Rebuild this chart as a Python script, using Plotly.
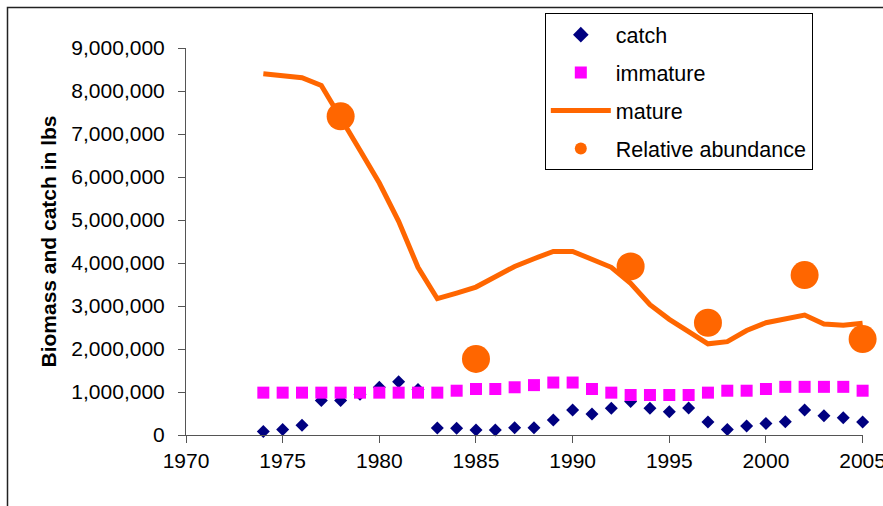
import plotly.graph_objects as go

# ── Datos ─────────────────────────────────────────────────────────────────────
years = list(range(1974, 2006))

catch = [80000, 130000, 225000, 800000, 800000, 950000, 1110000, 1240000, 1060000, 160000,
         156000, 116000, 116000, 170000, 170000, 350000, 580000, 490000, 620000, 780000,
         620000, 540000, 630000, 305000, 130000, 210000, 270000, 310000, 580000, 450000,
         400000, 300000]

immature = [985000, 985000, 985000, 985000, 985000, 985000, 985000, 985000, 985000, 985000,
            1030000, 1070000, 1070000, 1110000, 1160000, 1220000, 1220000, 1070000, 985000, 930000,
            930000, 930000, 930000, 985000, 1030000, 1030000, 1070000, 1120000, 1120000, 1120000,
            1120000, 1030000]

mature = [8400000, 8350000, 8310000, 8130000, 7400000, 6620000, 5860000, 4970000, 3900000, 3170000,
          3300000, 3440000, 3680000, 3920000, 4100000, 4270000, 4270000, 4080000, 3900000, 3530000,
          3030000, 2690000, 2420000, 2120000, 2170000, 2430000, 2610000, 2700000, 2790000, 2580000,
          2550000, 2600000]

abund_years = [1978, 1985, 1993, 1997, 2002, 2005]
abund = [7410000, 1770000, 3920000, 2610000, 3720000, 2230000]

NAVY = "#000080"
MAGENTA = "#FF00FF"
ORANGE = "#FF6600"
AXIS = "#555555"
FONT = "Arial, Liberation Sans, sans-serif"

fig = go.Figure()
fig.add_scatter(x=years, y=catch, name="catch", mode="markers", legendgroup="a",
                marker=dict(symbol="diamond", size=10, color=NAVY), cliponaxis=False)
fig.add_scatter(x=years, y=immature, name="immature", mode="markers", legendgroup="b",
                marker=dict(symbol="square", size=12, color=MAGENTA), cliponaxis=False)
fig.add_scatter(x=years, y=mature, name="mature", mode="lines", legendgroup="c",
                line=dict(color=ORANGE, width=5), cliponaxis=False)
fig.add_scatter(x=abund_years, y=abund, name="Relative abundance", mode="markers", legendgroup="d",
                marker=dict(symbol="circle", size=28, color=ORANGE), cliponaxis=False)

fig.update_layout(
    width=883, height=506,
    margin=dict(l=186, r=20, t=48, b=71, autoexpand=False),
    paper_bgcolor="white", plot_bgcolor="white",
    font=dict(family=FONT, size=21, color="black"),
    showlegend=True,
    legend=dict(
        x=0.530, y=1.09, xanchor="left", yanchor="top",
        bordercolor="black", borderwidth=1, bgcolor="white",
        font=dict(size=21.5), traceorder="grouped", tracegroupgap=7,
        itemwidth=60, itemsizing="constant",
    ),
    xaxis=dict(
        range=[1970, 2005.02], tickvals=[1970, 1975, 1980, 1985, 1990, 1995, 2000, 2005],
        showgrid=False, zeroline=False, ticklabeloverflow="allow",
        showline=True, linecolor=AXIS, linewidth=1,
        ticks="outside", ticklen=7, tickcolor=AXIS,
    ),
    yaxis=dict(
        range=[0, 9000000], dtick=1000000, tickformat=",", showgrid=False, zeroline=False,
        showline=True, linecolor=AXIS, linewidth=1,
        ticks="outside", ticklen=7, tickcolor=AXIS, ticklabelstandoff=9,
        title=dict(text="<b>Biomass and catch in lbs</b>", font=dict(size=21), standoff=9),
    ),
)

# marco exterior del gráfico (solo se ven los bordes superior e izquierdo)
fig.add_shape(type="rect", xref="paper", yref="paper",
              x0=(7.5 - 186) / 677, x1=1.5, y0=-0.5, y1=(435 - 7.5) / 387,
              line=dict(color="#222222", width=1.5), fillcolor="rgba(0,0,0,0)", layer="above")

# sin margen en el body, el lienzo ocupa exactamente la ventana
fig.write_html("out.html", config={"displayModeBar": False},
               post_script="document.body.style.margin='0';")
